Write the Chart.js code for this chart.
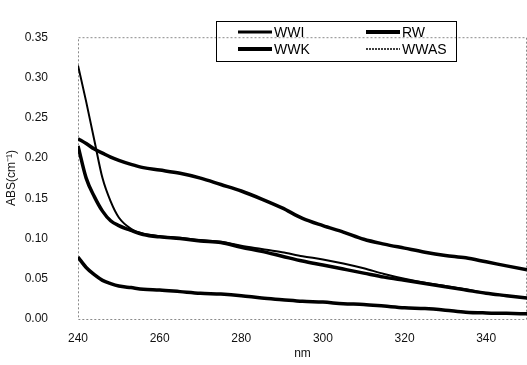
<!DOCTYPE html>
<html>
<head>
<meta charset="utf-8">
<script src="https://cdn.jsdelivr.net/npm/chart.js@4/dist/chart.umd.min.js"></script>
<style>
  html, body { margin: 0; padding: 0; background: #fff; }
  #wrap { width: 527px; height: 365px; }
</style>
</head>
<body>
<div id="wrap"><canvas id="myChart"></canvas></div>
<script>
// wavelength (nm) of the sampled points
const nm = [240, 242, 244, 246, 248, 250, 253, 256, 260, 265, 270, 275, 280, 285, 290, 295, 300, 305, 310, 315, 320, 325, 330, 335, 340, 345, 350];

const wwi  = [0.077, 0.064, 0.055, 0.048, 0.044, 0.041, 0.039, 0.037, 0.036, 0.034, 0.032, 0.031, 0.029, 0.026, 0.024, 0.022, 0.021, 0.019, 0.018, 0.016, 0.014, 0.013, 0.011, 0.0085, 0.0075, 0.007, 0.0064];
const rw   = [0.224, 0.218, 0.211, 0.206, 0.201, 0.197, 0.192, 0.188, 0.185, 0.181, 0.175, 0.167, 0.159, 0.149, 0.138, 0.125, 0.116, 0.108, 0.099, 0.093, 0.088, 0.083, 0.079, 0.076, 0.071, 0.066, 0.061];
const wwk  = [0.215, 0.175, 0.152, 0.134, 0.122, 0.116, 0.110, 0.105, 0.102, 0.100, 0.097, 0.095, 0.089, 0.084, 0.078, 0.072, 0.067, 0.062, 0.057, 0.052, 0.048, 0.044, 0.040, 0.036, 0.032, 0.029, 0.026];
const wwas = [0.315, 0.270, 0.222, 0.175, 0.146, 0.126, 0.112, 0.106, 0.103, 0.101, 0.098, 0.096, 0.091, 0.087, 0.083, 0.078, 0.074, 0.069, 0.063, 0.056, 0.050, 0.045, 0.041, 0.037, 0.032, 0.029, 0.026];

const seriesNames = ["WWI", "RW", "WWK", "WWAS"];
const xTicks = [240, 260, 280, 300, 320, 340];

const FONT = "'Liberation Sans', Arial, sans-serif";

const pts = (arr) => arr.map((v, i) => ({ x: nm[i], y: v }));

// dashed frame round the plot area
const frame = {
  id: 'frame',
  beforeDatasetsDraw(chart) {
    const a = chart.chartArea, c = chart.ctx;
    c.save();
    c.strokeStyle = '#8a8a8a';
    c.lineWidth = 1;
    c.setLineDash([2, 2]);
    c.strokeRect(a.left + 0.5, a.top + 0.5, a.right - a.left - 1, a.bottom - a.top);
    c.restore();
  }
};

// boxed two-column legend inside the plot
const boxLegend = {
  id: 'boxLegend',
  afterDraw(chart) {
    const c = chart.ctx;
    c.save();
    c.strokeStyle = '#000';
    c.lineWidth = 1;
    c.setLineDash([]);
    c.strokeRect(216.5, 21.5, 240, 40);
    const pos = [[238, 32], [366, 32], [238, 49], [366, 49]];
    chart.data.datasets.forEach((ds, i) => {
      const [x, y] = pos[i];
      c.beginPath();
      c.strokeStyle = '#000';
      c.lineWidth = ds.legendWidth;
      c.setLineDash(ds.legendDash || []);
      c.moveTo(x, y);
      c.lineTo(x + 34, y);
      c.stroke();
      c.setLineDash([]);
      c.fillStyle = '#000';
      c.font = '14px ' + FONT;
      c.textBaseline = 'middle';
      c.fillText(ds.label, x + 36, y + 1);
    });
    c.restore();
  }
};

new Chart("myChart", {
  type: "line",
  data: {
    datasets: [
      { label: seriesNames[0], data: pts(wwi),  borderWidth: 3.5, legendWidth: 3 },
      { label: seriesNames[1], data: pts(rw),   borderWidth: 3.5, legendWidth: 4 },
      { label: seriesNames[2], data: pts(wwk),  borderWidth: 3.5, legendWidth: 4 },
      { label: seriesNames[3], data: pts(wwas), borderWidth: 2,   legendWidth: 1.5, legendDash: [2, 1] }
    ].map(d => Object.assign(d, {
      borderColor: '#000',
      pointRadius: 0,
      cubicInterpolationMode: 'monotone',
      fill: false
    }))
  },
  options: {
    responsive: true,
    maintainAspectRatio: false,
    animation: false,
    layout: { padding: { top: 10, left: 0, right: 0, bottom: 0 } },
    plugins: {
      legend: { display: false },
      tooltip: { enabled: false }
    },
    scales: {
      x: {
        type: 'linear',
        min: 240,
        max: 350,
        afterFit: (s) => { s.height = 46; },
        afterBuildTicks: (s) => { s.ticks = xTicks.map(v => ({ value: v })); },
        grid: { display: false, drawTicks: false },
        border: { display: false },
        ticks: { color: '#111', padding: 12, font: { family: FONT, size: 12 } },
        title: { display: true, text: 'nm', color: '#111', padding: { top: 0, bottom: 4 }, font: { family: FONT, size: 12 } }
      },
      y: {
        min: 0,
        max: 0.35,
        afterFit: (s) => { s.width = 78; },
        grid: { display: false, drawTicks: false },
        border: { display: false },
        ticks: {
          stepSize: 0.05,
          color: '#111',
          padding: 30,
          font: { family: FONT, size: 12 },
          callback: (v) => v.toFixed(2)
        },
        title: { display: true, text: 'ABS(cm\u207B\u00B9)', color: '#111', padding: { top: 4, bottom: 0 }, font: { family: FONT, size: 12 } }
      }
    }
  },
  plugins: [frame, boxLegend]
});
</script>
</body>
</html>
